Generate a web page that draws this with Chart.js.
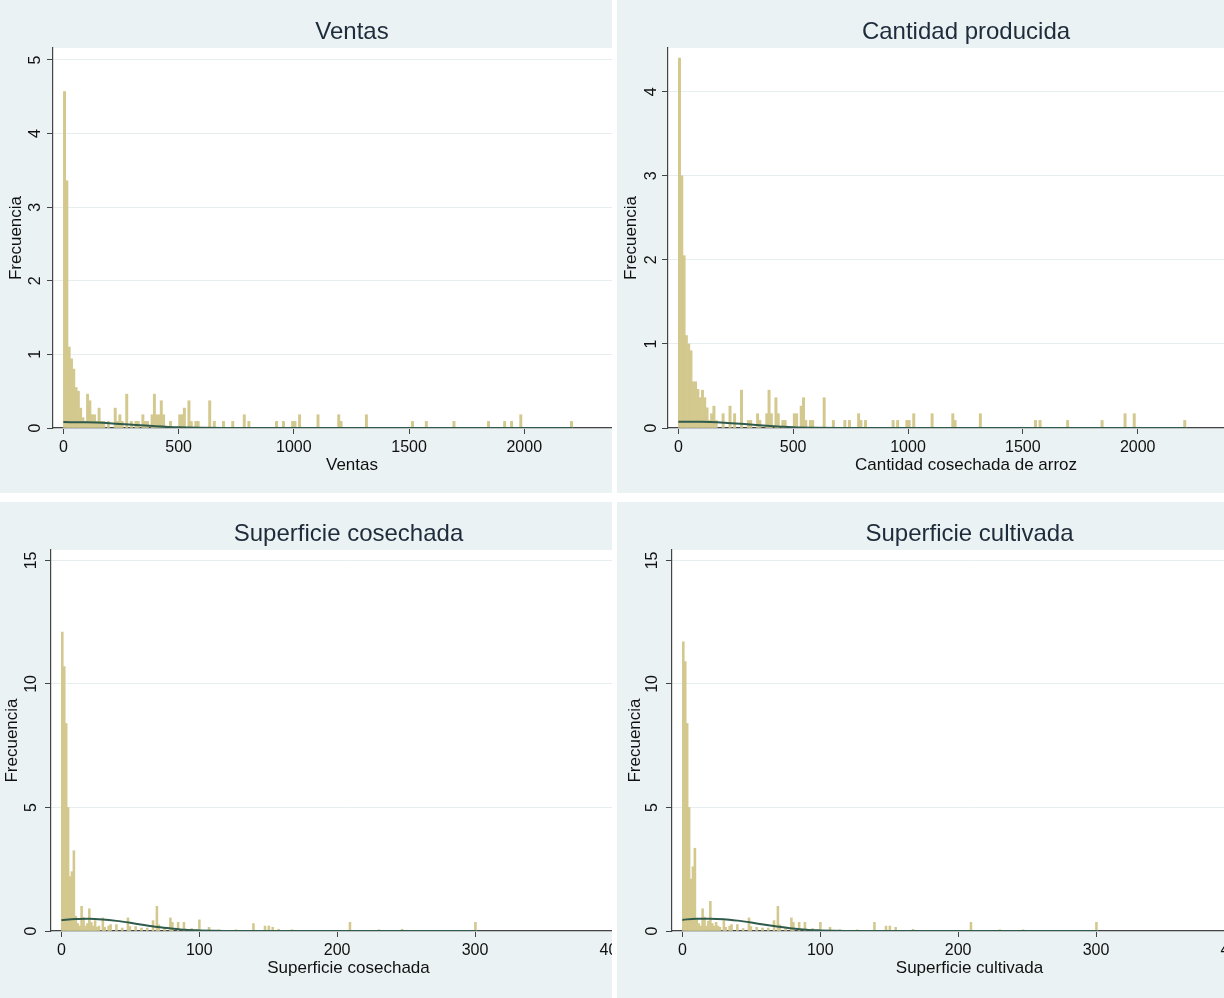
<!DOCTYPE html>
<html>
<head>
<meta charset="utf-8">
<title>Histogramas</title>
<script src="https://cdn.jsdelivr.net/npm/chart.js@4.4.1/dist/chart.umd.min.js"></script>
<style>
  body { margin: 0; background: #fff; width: 1224px; height: 998px; overflow: hidden; position: relative; }
  .panel { position: absolute; overflow: hidden; background: #eaf2f3; }
  .panel canvas { position: absolute; left: 0; top: 0; }
  #p1 { left: 0; top: 0; width: 612px; height: 493px; }
  #p2 { left: 617px; top: 0; width: 607px; height: 493px; }
  #p3 { left: 0; top: 502px; width: 612px; height: 496px; }
  #p4 { left: 617px; top: 502px; width: 607px; height: 496px; }
</style>
</head>
<body>
<div class="panel" id="p1"><canvas id="ventasChart" width="655" height="493"></canvas></div>
<div class="panel" id="p2"><canvas id="cantidadChart" width="651" height="493"></canvas></div>
<div class="panel" id="p3"><canvas id="cosechadaChart" width="650" height="496"></canvas></div>
<div class="panel" id="p4"><canvas id="cultivadaChart" width="654" height="496"></canvas></div>
<script>
// Ventas: bin centres (width 10) and heights
const ventasBins = [5, 15, 25, 35, 45, 55, 65, 75, 85, 95, 105, 115, 125, 135, 145, 155, 165, 175, 195,
	225, 235, 245, 255, 275, 295, 315, 325, 345, 355, 365, 385, 395, 405, 415, 425, 435, 465,
	505, 515, 525, 545, 555, 575, 585, 635, 655, 695, 735, 785, 805, 925, 955, 995, 1005, 1025,
	1105, 1195, 1205, 1315, 1515, 1575, 1695, 1845, 1915, 1945, 1985, 2205];
const ventasFreq = [4.57, 3.36, 1.1, 0.94, 0.8, 0.55, 0.5, 0.27, 0.14, 0.09, 0.46, 0.37, 0.18, 0.18, 0.09, 0.27, 0.09, 0.09, 0.09,
	0.27, 0.09, 0.18, 0.09, 0.46, 0.09, 0.09, 0.09, 0.18, 0.09, 0.09, 0.18, 0.46, 0.18, 0.18, 0.37, 0.18, 0.09,
	0.18, 0.18, 0.27, 0.37, 0.09, 0.09, 0.09, 0.37, 0.09, 0.09, 0.09, 0.18, 0.09, 0.09, 0.09, 0.09, 0.09, 0.18,
	0.18, 0.18, 0.09, 0.18, 0.09, 0.09, 0.09, 0.09, 0.09, 0.09, 0.18, 0.09];
const ventasCurveX = [0, 100, 200, 300, 400, 500, 600, 700, 2210];
const ventasCurveY = [0.08, 0.078, 0.066, 0.045, 0.024, 0.009, 0.003, 0.0005, 0];
const ventasTicksX = [0, 500, 1000, 1500, 2000];
const ventasTicksY = [0, 1, 2, 3, 4, 5];

// Cantidad producida
const cantidadBins = [5, 15, 25, 35, 45, 55, 65, 75, 85, 95, 105, 115, 125, 135, 145, 155, 165, 195,
	225, 245, 275, 305, 315, 345, 355, 385, 395, 405, 425, 435, 455, 465,
	505, 515, 535, 545, 555, 575, 585, 635, 675, 725, 745, 785, 795, 815, 935, 955, 995, 1005, 1025,
	1105, 1195, 1205, 1315, 1555, 1575, 1695, 1845, 1945, 1985, 2205];
const cantidadFreq = [4.4, 3.0, 2.05, 1.1, 1.0, 0.92, 0.55, 0.55, 0.46, 0.36, 0.45, 0.36, 0.24, 0.09, 0.17, 0.26, 0.09, 0.17,
	0.26, 0.17, 0.45, 0.09, 0.09, 0.17, 0.09, 0.17, 0.45, 0.17, 0.36, 0.17, 0.09, 0.09,
	0.17, 0.17, 0.26, 0.36, 0.09, 0.09, 0.09, 0.36, 0.09, 0.09, 0.09, 0.17, 0.09, 0.09, 0.09, 0.09, 0.09, 0.09, 0.17,
	0.17, 0.17, 0.09, 0.17, 0.09, 0.09, 0.09, 0.09, 0.17, 0.17, 0.09];
const cantidadCurveX = [0, 100, 200, 300, 400, 500, 600, 700, 2210];
const cantidadCurveY = [0.075, 0.074, 0.063, 0.044, 0.024, 0.009, 0.003, 0.0005, 0];
const cantidadTicksX = [0, 500, 1000, 1500, 2000];
const cantidadTicksY = [0, 1, 2, 3, 4];

// Superficie cosechada: bin centres (width 1.4)
const cosechadaBins = [0.7, 2.1, 3.5, 4.9, 6.3, 7.7, 9.1, 10.5, 11.9, 13.3, 14.7, 16.1, 17.5, 18.9, 20.3, 21.7, 23.1,
	24.5, 25.9, 27.3, 30.1, 31.5, 34.3, 35.7, 39.9, 44.1, 48.3, 49.7, 53.9, 58.1, 62.3, 66.5, 69.3, 70.7,
	74.9, 79.1, 80.5, 84.7, 88.9, 94.5, 100.1, 107.1, 114.1, 126.7, 139.3, 147.7, 150.5, 153.3, 157.5,
	167.3, 209.3, 230.3, 247.1, 300.3];
const cosechadaFreq = [12.1, 10.7, 8.4, 5.0, 2.2, 2.4, 3.25, 0.6, 0.3, 0.2, 1.0, 0.55, 0.2, 0.3, 0.9, 0.35, 0.2,
	0.42, 0.15, 0.2, 0.53, 0.15, 0.2, 0.26, 0.26, 0.12, 0.53, 0.18, 0.18, 0.12, 0.12, 0.42, 1.0, 0.25,
	0.12, 0.53, 0.35, 0.35, 0.35, 0.1, 0.45, 0.15, 0.05, 0.05, 0.3, 0.2, 0.2, 0.15, 0.07,
	0.05, 0.35, 0.05, 0.07, 0.35];
const cosechadaCurveX = [0, 10, 20, 30, 40, 50, 60, 70, 80, 90, 100, 110, 120, 130, 301];
const cosechadaCurveY = [0.44, 0.49, 0.5, 0.47, 0.41, 0.33, 0.24, 0.16, 0.1, 0.05, 0.025, 0.01, 0.004, 0.001, 0];
const cosechadaTicksX = [0, 100, 200, 300, 400];
const cosechadaTicksY = [0, 5, 10, 15];

// Superficie cultivada
const cultivadaBins = [0.7, 2.1, 3.5, 4.9, 6.3, 7.7, 9.1, 10.5, 11.9, 13.3, 14.7, 16.1, 17.5, 18.9, 20.3, 21.7, 23.1,
	24.5, 25.9, 27.3, 30.1, 31.5, 34.3, 35.7, 39.9, 44.1, 48.3, 49.7, 53.9, 58.1, 62.3, 66.5, 69.3, 70.7,
	74.9, 79.1, 80.5, 84.7, 88.9, 94.5, 100.1, 107.1, 114.1, 126.7, 139.3, 147.7, 150.5, 154.7,
	167.3, 209.3, 230.3, 247.1, 300.3];
const cultivadaFreq = [11.7, 10.9, 8.4, 5.0, 2.1, 2.6, 3.35, 0.5, 0.3, 0.2, 0.9, 0.56, 0.2, 0.4, 1.2, 0.3, 0.2,
	0.35, 0.2, 0.15, 0.42, 0.15, 0.2, 0.26, 0.26, 0.1, 0.53, 0.18, 0.15, 0.12, 0.12, 0.42, 1.0, 0.25,
	0.12, 0.53, 0.35, 0.35, 0.35, 0.1, 0.35, 0.15, 0.05, 0.05, 0.35, 0.2, 0.2, 0.15,
	0.07, 0.35, 0.05, 0.05, 0.35];
const cultivadaCurveX = [0, 10, 20, 30, 40, 50, 60, 70, 80, 90, 100, 110, 120, 130, 301];
const cultivadaCurveY = [0.45, 0.5, 0.5, 0.48, 0.42, 0.34, 0.25, 0.17, 0.1, 0.05, 0.025, 0.01, 0.004, 0.001, 0];
const cultivadaTicksX = [0, 100, 200, 300, 400];
const cultivadaTicksY = [0, 5, 10, 15];

Chart.defaults.font.family = '"Liberation Sans", Arial, sans-serif';

const plotBackground = {
	id: 'plotBackground',
	beforeDraw(chart) {
		const { ctx, chartArea: a } = chart;
		ctx.save();
		ctx.fillStyle = '#ffffff';
		ctx.fillRect(a.left, a.top, a.right - a.left, a.bottom - a.top);
		ctx.restore();
	}
};

function drawHistogram(canvasId, cfg) {
	const ctx = document.getElementById(canvasId).getContext('2d');
	return new Chart(ctx, {
		type: 'bar',
		data: {
			datasets: [{
				type: 'line',
				data: cfg.curveX.map((x, i) => ({ x: x, y: cfg.curveY[i] })),
				borderColor: '#2f5b4d',
				borderWidth: 2,
				pointRadius: 0,
				cubicInterpolationMode: 'monotone',
				fill: false,
				order: 0
			}, {
				type: 'bar',
				data: cfg.bins.map((x, i) => ({ x: x, y: cfg.freq[i] })),
				backgroundColor: '#d3c88e',
				borderWidth: 0,
				barThickness: cfg.barPx,
				order: 1
			}]
		},
		options: {
			responsive: false,
			animation: false,
			layout: { padding: { left: 0, right: 4, top: 0, bottom: 0 } },
			plugins: {
				legend: { display: false },
				tooltip: { enabled: false },
				title: {
					display: true,
					text: cfg.title,
					color: '#1e2b3b',
					font: { size: 24, weight: 'normal' },
					padding: { top: 17.6, bottom: 1.6 },
					fullSize: false
				}
			},
			scales: {
				x: {
					type: 'linear',
					min: cfg.xMin,
					max: cfg.xMax,
					offset: false,
					afterBuildTicks: s => { s.ticks = cfg.ticksX.map(v => ({ value: v })); },
					afterFit: s => { s.height = cfg.xAxisH; },
					grid: { display: true, drawOnChartArea: false, drawTicks: true, tickLength: 6, tickColor: '#444', offset: false },
					border: { display: true, color: '#444', width: 1.2 },
					ticks: { autoSkip: false, maxRotation: 0, padding: 4.4, color: '#111', font: { size: 16 }, callback: v => String(v) },
					title: { display: true, text: cfg.xTitle, color: '#111', font: { size: 17 }, padding: { top: 0, bottom: cfg.xTitlePad } }
				},
				y: {
					min: 0,
					max: cfg.yMax,
					afterBuildTicks: s => { s.ticks = cfg.ticksY.map(v => ({ value: v })); },
					afterFit: s => { s.width = cfg.yAxisW; },
					grid: { color: '#e6eef0', lineWidth: 1, drawTicks: true, tickLength: 6, tickColor: '#444' },
					border: { display: true, color: '#444', width: 1.2 },
					ticks: { minRotation: 90, maxRotation: 90, crossAlign: 'center', padding: cfg.yTickPad, color: '#111', font: { size: 16 }, callback: v => String(v) },
					title: { display: true, text: 'Frecuencia', color: '#111', font: { size: 17 }, padding: { top: cfg.yTitlePad, bottom: 0 } }
				}
			}
		},
		plugins: [plotBackground]
	});
}

drawHistogram('ventasChart', {
	title: 'Ventas', xTitle: 'Ventas',
	bins: ventasBins, freq: ventasFreq, curveX: ventasCurveX, curveY: ventasCurveY,
	ticksX: ventasTicksX, ticksY: ventasTicksY,
	xMin: -45, xMax: 2550, yMax: 5.163, barPx: 2.3,
	yAxisW: 53, xAxisH: 65, yTickPad: 6.5, yTitlePad: 5.8, xTitlePad: 17.8
});

drawHistogram('cantidadChart', {
	title: 'Cantidad producida', xTitle: 'Cantidad cosechada de arroz',
	bins: cantidadBins, freq: cantidadFreq, curveX: cantidadCurveX, curveY: cantidadCurveY,
	ticksX: cantidadTicksX, ticksY: cantidadTicksY,
	xMin: -45, xMax: 2550, yMax: 4.52, barPx: 2.3,
	yAxisW: 51, xAxisH: 65, yTickPad: 6, yTitlePad: 4.5, xTitlePad: 17.8
});

drawHistogram('cosechadaChart', {
	title: 'Superficie cosechada', xTitle: 'Superficie cosechada',
	bins: cosechadaBins, freq: cosechadaFreq, curveX: cosechadaCurveX, curveY: cosechadaCurveY,
	ticksX: cosechadaTicksX, ticksY: cosechadaTicksY,
	xMin: -7.5, xMax: 424, yMax: 15.42, barPx: 1.93,
	yAxisW: 51, xAxisH: 67, yTickPad: 5, yTitlePad: 1.8, xTitlePad: 19.5
});

drawHistogram('cultivadaChart', {
	title: 'Superficie cultivada', xTitle: 'Superficie cultivada',
	bins: cultivadaBins, freq: cultivadaFreq, curveX: cultivadaCurveX, curveY: cultivadaCurveY,
	ticksX: cultivadaTicksX, ticksY: cultivadaTicksY,
	xMin: -7.5, xMax: 424, yMax: 15.42, barPx: 1.93,
	yAxisW: 55, xAxisH: 67, yTickPad: 5, yTitlePad: 8.5, xTitlePad: 19.5
});
</script>
</body>
</html>
